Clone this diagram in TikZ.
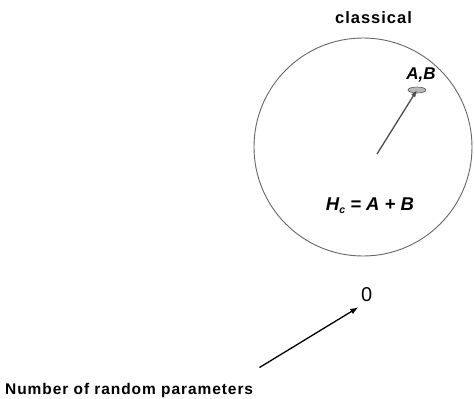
\documentclass[tikz,border=0pt]{standalone}
\usepackage{fontspec}
\setmainfont{Liberation Sans}
\usetikzlibrary{shapes.geometric,arrows.meta}
\tikzset{
  lbl/.style={inner sep=0pt, text=black},
  ring/.style={circle, draw=gray!80!black, line width=0.9pt, minimum size=218pt, inner sep=0pt},
  dotmark/.style={ellipse, draw=gray!70!black, fill=gray!55, line width=0.6pt, minimum width=18pt, minimum height=6pt, inner sep=0pt},
  grayarrow/.style={draw=gray!60!black, line width=1.3pt, -{Latex[length=7pt,width=5pt]}},
  blackarrow/.style={draw=black, line width=1.3pt, -{Latex[length=8pt,width=6pt]}},
}
\begin{document}
\begin{tikzpicture}[x=1pt,y=-1pt]
\useasboundingbox (0,0) rectangle (474,399);
\node[ring] (circ) at (363,147) {};
\node[lbl, anchor=base] (cls) at (373.5,23) {\fontsize{16.5}{18}\selectfont\bfseries\addfontfeatures{LetterSpace=6}classical};
\node[lbl, anchor=base] (ab) at (421,79) {\fontsize{17}{19}\selectfont\bfseries\itshape A,B};
\node[dotmark] (dot) at (417,90) {};
\node[lbl, anchor=base] (hc) at (370,210) {\fontsize{18.5}{20}\selectfont\bfseries\itshape H\raisebox{-3.5pt}{\fontsize{10.5}{11}\selectfont c} = A + B};
\coordinate (inner) at (377,154);
\draw[grayarrow] (inner) -- (dot.center);
\node[lbl, anchor=base] (zero) at (366.7,301.7) {\fontsize{20}{22}\selectfont 0};
\node[lbl, anchor=base west] (nrp) at (5,394) {\fontsize{15.5}{17}\selectfont\bfseries\addfontfeatures{LetterSpace=6}Number of random parameters};
\coordinate (tail) at (259.5,367.5);
\coordinate (tip) at (358.3,307.3);
\draw[blackarrow] (tail) -- (tip);
\end{tikzpicture}
\end{document}
